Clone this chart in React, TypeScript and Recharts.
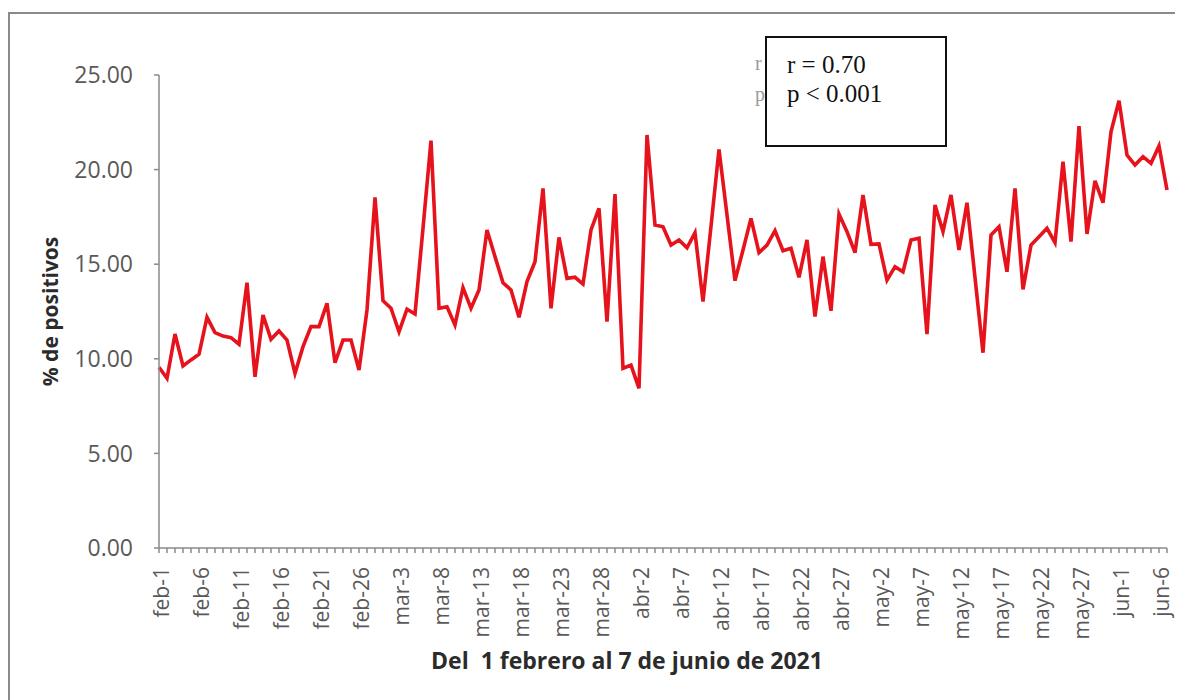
import React from "react";
import { LineChart, Line, XAxis, YAxis, Label } from "recharts";

// daily positivity, 1 feb – 7 jun 2021
const months = ["feb", "mar", "abr", "may", "jun"];
const daysInMonth = [28, 31, 30, 31, 7];

const positivos = [
  9.55, 8.97, 11.31, 9.62, 9.94, 10.24, 12.19, 11.38, 11.2, 11.12,
  10.77, 14.02, 9.05, 12.31, 11.03, 11.47, 10.99, 9.23, 10.64, 11.7,
  11.7, 12.93, 9.79, 10.99, 10.99, 9.41, 12.58, 18.53, 13.07, 12.67,
  11.43, 12.62, 12.37, 16.9, 21.53, 12.67, 12.75, 11.79, 13.76, 12.67,
  13.64, 16.81, 15.4, 14.02, 13.64, 12.19, 14.08, 15.13, 19.01, 12.67,
  16.42, 14.25, 14.31, 13.95, 16.81, 17.95, 11.96, 18.71, 9.5, 9.67,
  8.44, 21.83, 17.07, 16.98, 16.01, 16.28, 15.87, 16.67, 13.02, 17.0,
  21.07, 17.6, 14.13, 15.75, 17.42, 15.61, 16.01, 16.77, 15.71, 15.84,
  14.31, 16.28, 12.23, 15.4, 12.54, 17.65, 16.72, 15.61, 18.66, 16.05,
  16.07, 14.16, 14.87, 14.6, 16.28, 16.37, 11.31, 18.13, 16.72, 18.66,
  15.75, 18.25, 14.3, 10.32, 16.54, 16.98, 14.6, 19.01, 13.67, 16.01,
  16.45, 16.9, 16.14, 20.42, 16.19, 22.3, 16.6, 19.41, 18.25, 22.0,
  23.64, 20.77, 20.24, 20.68, 20.33, 21.25, 18.92,
];

const yTicks = [0, 5, 10, 15, 20, 25];

const dias: string[] = [];
months.forEach((m, k) => {
  for (let d = 1; d <= daysInMonth[k]; d++) dias.push(`${m}-${d}`);
});

const data = dias.map((dia, i) => ({ dia, pct: positivos[i] }));

const tickColor = "#595959";
const axisColor = "#8a8a8a";

function DayTick(props: any) {
  const { x, y, payload } = props;
  const idx = payload.index ?? props.index;
  if (idx % 5 !== 0) return <g />;
  return (
    <text
      x={0}
      y={0}
      transform={`translate(${x + 2},${y}) rotate(-90)`}
      textAnchor="end"
      dominantBaseline="central"
      fontSize={21}
      fontFamily="Open Sans"
      fill={tickColor}
    >
      {payload.value}
    </text>
  );
}

export default function App() {
  return (
    <div style={{ paddingTop: 4 }}>
      <div
        style={{
          position: "relative",
          width: 1168,
          height: 690,
          border: `2px solid ${axisColor}`,
          borderBottom: "none",
          background: "#fff",
        }}
      >
        <LineChart
          width={1168}
          height={686}
          data={data}
          margin={{ top: 61, right: 11, left: 0, bottom: 0 }}
        >
          <XAxis
            dataKey="dia"
            interval={0}
            height={152}
            tick={<DayTick />}
            tickSize={5}
            tickMargin={14}
            stroke={axisColor}
            strokeWidth={1.5}
          >
            <Label
              value={"Del \u00a01 febrero al 7 de junio de 2021"}
              position="insideBottom"
              offset={31}
              dx={-36}
              style={{ fontSize: 23, fontWeight: 700, fontFamily: "Open Sans", fill: "#2b2b2b" }}
            />
          </XAxis>
          <YAxis
            width={149}
            domain={[0, 25]}
            ticks={yTicks}
            tickFormatter={(v: number) => v.toFixed(2)}
            tickSize={5}
            tickMargin={21}
            stroke={axisColor}
            strokeWidth={1.5}
            tick={{ fill: tickColor, fontSize: 23, fontFamily: "Open Sans" }}
          >
            <Label
              value="% de positivos"
              angle={-90}
              position="insideLeft"
              offset={41}
              style={{ textAnchor: "middle", fontSize: 21, fontWeight: 700, fontFamily: "Open Sans", fill: "#2b2b2b" }}
            />
          </YAxis>
          <Line
            type="linear"
            dataKey="pct"
            stroke="#e6121c"
            strokeWidth={3.6}
            strokeLinejoin="miter"
            dot={false}
            isAnimationActive={false}
          />
        </LineChart>

        <span style={{ position: "absolute", left: 745, top: 38, fontFamily: "Liberation Serif", fontSize: 20, color: "#9a9a9a" }}>r</span>
        <span style={{ position: "absolute", left: 745, top: 69, fontFamily: "Liberation Serif", fontSize: 20, color: "#9a9a9a" }}>p</span>
        <div
          style={{
            position: "absolute",
            left: 755,
            top: 22,
            width: 182,
            height: 111,
            boxSizing: "border-box",
            border: "2px solid #111",
            background: "#fff",
            paddingTop: 12,
            paddingLeft: 20,
            fontFamily: "Liberation Serif",
            fontSize: 25,
            lineHeight: "29px",
            color: "#111",
          }}
        >
          <div>r = 0.70</div>
          <div>p &lt; 0.001</div>
        </div>
      </div>
    </div>
  );
}
